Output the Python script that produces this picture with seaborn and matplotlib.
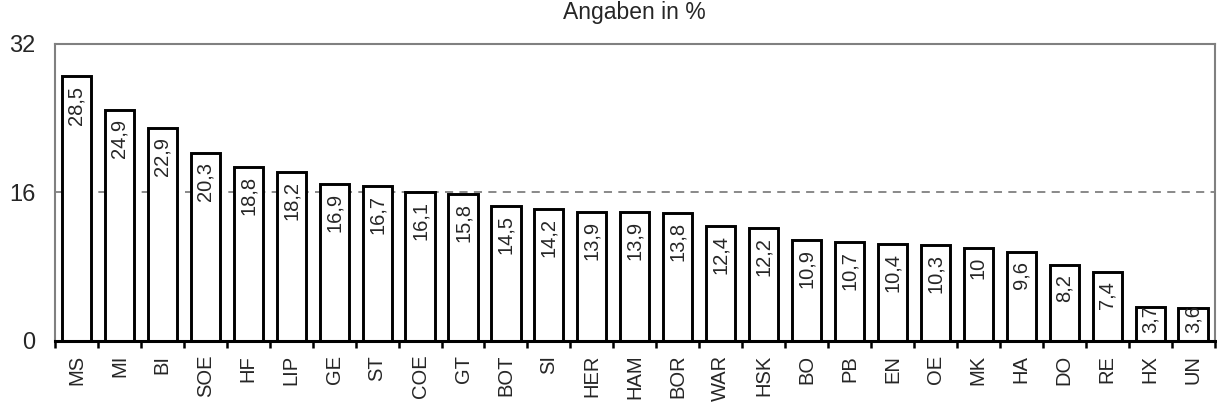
import numpy as np
import pandas as pd
import matplotlib
matplotlib.use("Agg")
import matplotlib.pyplot as plt
import matplotlib.transforms as mtransforms
import seaborn as sns

sns.set_style("white")
plt.rcParams['font.family'] = ['Liberation Sans', 'DejaVu Sans']

# data
regions = ["MS", "MI", "BI", "SOE", "HF", "LIP", "GE", "ST", "COE", "GT",
           "BOT", "SI", "HER", "HAM", "BOR", "WAR", "HSK", "BO", "PB", "EN",
           "OE", "MK", "HA", "DO", "RE", "HX", "UN"]
shares = [28.5, 24.9, 22.9, 20.3, 18.8, 18.2, 16.9, 16.7, 16.1, 15.8,
          14.5, 14.2, 13.9, 13.9, 13.8, 12.4, 12.2, 10.9, 10.7, 10.4,
          10.3, 10.0, 9.6, 8.2, 7.4, 3.7, 3.6]
y_ticks = [0, 16, 32]
ref_line = 16
title = "Angaben in %"

df = pd.DataFrame({"region": regions, "share": shares})

fig = plt.figure(figsize=(12.17, 4.07), dpi=100)
ax = fig.add_axes([0.0452, 0.1622, 0.9528, 0.7297])

sns.barplot(data=df, x="region", y="share", color="white", edgecolor="black",
            linewidth=2.1, width=0.68, saturation=1, ax=ax, zorder=3)

ax.axhline(ref_line, color="#808080", linestyle=(0, (4.5, 3.5)), linewidth=1.3, zorder=1)

# value labels inside the bars; short bars get the label pushed up from the base
top_off = mtransforms.offset_copy(ax.transData, fig=fig, x=0, y=-6.5, units="points")
base_off = mtransforms.offset_copy(ax.transData, fig=fig, x=0, y=6, units="points")
for i, v in enumerate(shares):
    lab = f"{v:g}".replace(".", ",")
    if v < 5:
        ax.text(i, 0, lab, rotation=90, ha="center", va="bottom", fontsize=14.5,
                transform=base_off, zorder=4)
    else:
        ax.text(i, v, lab, rotation=90, ha="center", va="top", fontsize=14.5,
                transform=top_off, zorder=4)

n = len(regions)
ax.set_xlim(-0.5, n - 0.5)
ax.set_ylim(0, 32)
ax.set_yticks(y_ticks)
ax.set_yticklabels([str(t) for t in y_ticks], fontsize=17)
ax.tick_params(axis="y", length=0, pad=14)

ax.set_xticks(range(n))
ax.set_xticklabels(regions, rotation=90, fontsize=14.5)
ax.tick_params(axis="x", which="major", length=0, pad=10)
ax.set_xticks(np.arange(-0.5, n, 1.0), minor=True)
ax.tick_params(axis="x", which="minor", length=5, width=1.8, color="black",
               direction="out", bottom=True)

ax.set_xlabel("")
ax.set_ylabel("")

for side in ["left", "top", "right"]:
    ax.spines[side].set_color("#808080")
    ax.spines[side].set_linewidth(1.5)
ax.spines["bottom"].set_color("black")
ax.spines["bottom"].set_linewidth(2.2)
ax.spines["bottom"].set_zorder(5)

ax.set_title(title, fontsize=16.5, pad=18)

fig.savefig("out.png", dpi=100)
